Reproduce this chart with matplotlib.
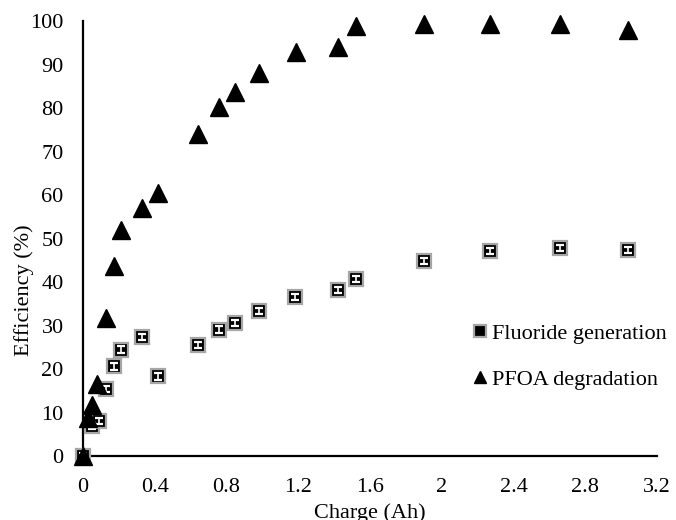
import matplotlib
matplotlib.use("Agg")
import matplotlib.pyplot as plt

plt.rcParams['font.family'] = ['Liberation Serif', 'DejaVu Serif']

charge_pfoa = [0, 0.03, 0.05, 0.08, 0.13, 0.17, 0.21, 0.33, 0.42, 0.64, 0.76, 0.85, 0.98,
               1.19, 1.42, 1.52, 1.90, 2.27, 2.66, 3.04]
pfoa = [0, 8.7, 11.7, 16.5, 31.7, 43.8, 52.0, 57.1, 60.6, 74.0, 80.3, 83.8, 88.2,
        92.9, 94.0, 98.9, 99.3, 99.3, 99.3, 97.9]

charge_f = [0, 0.05, 0.09, 0.13, 0.17, 0.21, 0.33, 0.42, 0.64, 0.76, 0.85, 0.98,
            1.18, 1.42, 1.52, 1.90, 2.27, 2.66, 3.04]
fluoride = [0, 6.9, 8.0, 15.4, 20.6, 24.5, 27.3, 18.3, 25.5, 29.1, 30.7, 33.3,
            36.5, 38.1, 40.8, 44.8, 47.1, 47.9, 47.3]
fluoride_err = [0.7] * len(fluoride)

xticks = [0, 0.4, 0.8, 1.2, 1.6, 2, 2.4, 2.8, 3.2]
xtick_labels = ['0', '0.4', '0.8', '1.2', '1.6', '2', '2.4', '2.8', '3.2']
yticks = list(range(0, 101, 10))

fig = plt.figure(figsize=(6.76, 5.2), dpi=100)
ax = fig.add_axes([0.1228, 0.123, 0.849, 0.836])

ax.plot(charge_f, fluoride, linestyle='none', marker='s', markersize=10.5,
        markerfacecolor='black', markeredgecolor='#a6a6a6', markeredgewidth=1.6,
        label='Fluoride generation', zorder=3, clip_on=False)
ax.errorbar(charge_f, fluoride, yerr=fluoride_err, fmt='none', ecolor='white',
            elinewidth=1.2, capsize=3, capthick=1.6, zorder=4, clip_on=False)
ax.plot(charge_pfoa, pfoa, linestyle='none', marker='^', markersize=12.5,
        color='black', label='PFOA degradation', zorder=5, clip_on=False)

ax.set_xlim(0, 3.2)
ax.set_ylim(0, 100)
ax.set_xticks(xticks)
ax.set_xticklabels(xtick_labels)
ax.set_yticks(yticks)
ax.tick_params(axis='x', length=0, labelsize=16, pad=15.5)
ax.tick_params(axis='y', length=0, labelsize=16, pad=14)
for s in ['top', 'right']:
    ax.spines[s].set_visible(False)
for s in ['left', 'bottom']:
    ax.spines[s].set_linewidth(1.6)

ax.set_xlabel('Charge (Ah)', fontsize=16, labelpad=4.5)
ax.set_ylabel('Efficiency (%)', fontsize=16)
ax.yaxis.set_label_coords(-0.086, 0.382)

leg = ax.legend(loc='center left', bbox_to_anchor=(0.657, 0.229), frameon=False,
                fontsize=16, handlelength=0.8, handletextpad=0.15,
                labelspacing=1.15, borderpad=0)
for h in leg.legend_handles:
    h.set_markersize(9)

fig.savefig('out.png', dpi=100)
